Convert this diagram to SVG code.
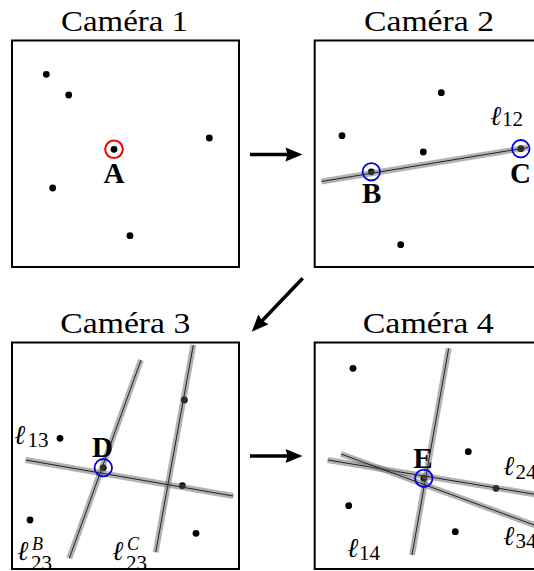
<svg xmlns="http://www.w3.org/2000/svg" width="534" height="571" viewBox="0 0 534 571">
<style>
  .frame{fill:#fff;stroke:#000;stroke-width:2}
  .title{font-family:"Liberation Serif","DejaVu Serif",serif;font-size:30px;fill:#000;text-anchor:middle}
  .pt{font-family:"Liberation Serif","DejaVu Serif",serif;font-size:29px;font-weight:bold;fill:#000;text-anchor:middle}
  .ell{font-family:"Liberation Serif","DejaVu Serif",serif;font-size:27px;font-style:italic;fill:#000}
  .sub{font-family:"Liberation Serif","DejaVu Serif",serif;font-size:21px;fill:#000}
  .sup{font-family:"Liberation Serif","DejaVu Serif",serif;font-size:18px;font-style:italic;fill:#000}
  .dot{fill:#000}
  .band{stroke:#666;stroke-opacity:0.5;stroke-width:6;fill:none}
  .core{stroke:#222;stroke-width:1;fill:none}
  .red{fill:none;stroke:#ee0000;stroke-width:2}
  .blue{fill:none;stroke:#0000ee;stroke-width:1.8}
  .arrow{stroke:#000;stroke-width:3.5;fill:none}
</style>
<defs>
  <marker id="head" markerUnits="userSpaceOnUse" markerWidth="24" markerHeight="18" viewBox="-2 -9 20 18" refX="4" refY="0" orient="auto">
    <path d="M-1,-7 L16,0 L-1,7 L1,0 z" fill="#000"/>
  </marker>
</defs>

<g id="camera1">
  <text class="title" x="124.5" y="31" textLength="127" lengthAdjust="spacingAndGlyphs">Caméra 1</text>
  <rect class="frame" x="12" y="40.5" width="227" height="226.5"/>
  <circle class="dot" cx="46.3" cy="74.3" r="3.4"/>
  <circle class="dot" cx="68.7" cy="95" r="3.4"/>
  <circle class="dot" cx="209.3" cy="138" r="3.4"/>
  <circle class="dot" cx="114" cy="149.3" r="3.4"/>
  <circle class="dot" cx="52.7" cy="188" r="3.4"/>
  <circle class="dot" cx="130" cy="235.7" r="3.4"/>
  <circle class="red" cx="114" cy="149.3" r="8.8"/>
  <text class="pt" x="114" y="182.7">A</text>
</g>

<g id="camera2">
  <text class="title" x="429" y="31" textLength="130" lengthAdjust="spacingAndGlyphs">Caméra 2</text>
  <rect class="frame" x="314.7" y="40.5" width="227" height="226.5"/>
  <circle class="dot" cx="342" cy="135.7" r="3.4"/>
  <circle class="dot" cx="441.3" cy="92.7" r="3.4"/>
  <circle class="dot" cx="423.3" cy="152" r="3.4"/>
  <circle class="dot" cx="371.3" cy="171.8" r="3.4"/>
  <circle class="dot" cx="520.8" cy="148.7" r="3.4"/>
  <circle class="dot" cx="400.7" cy="244.7" r="3.4"/>
  <line class="band" x1="321.5" y1="181.5" x2="528" y2="147.5"/>
  <line class="core" x1="321.5" y1="181.5" x2="528" y2="147.5"/>
  <circle class="blue" cx="371.3" cy="171.8" r="8.7"/>
  <circle class="blue" cx="520.8" cy="148.7" r="8.7"/>
  <text class="pt" x="371.7" y="203.3">B</text>
  <text class="pt" x="520.5" y="183.3">C</text>
  <text class="ell" x="490" y="124.5">ℓ</text>
  <text class="sub" x="502" y="126">12</text>
</g>

<g id="camera3">
  <text class="title" x="125.3" y="332.7" textLength="130" lengthAdjust="spacingAndGlyphs">Caméra 3</text>
  <rect class="frame" x="12" y="342.5" width="227" height="226.5"/>
  <circle class="dot" cx="60" cy="438.3" r="3.4"/>
  <circle class="dot" cx="30" cy="520" r="3.4"/>
  <circle class="dot" cx="196" cy="533.3" r="3.4"/>
  <circle class="dot" cx="103.3" cy="467.7" r="3.4"/>
  <circle class="dot" cx="184.3" cy="400" r="3.4"/>
  <circle class="dot" cx="182.3" cy="485.7" r="3.4"/>
  <line class="band" x1="141" y1="360" x2="69.3" y2="558.3"/>
  <line class="core" x1="141" y1="360" x2="69.3" y2="558.3"/>
  <line class="band" x1="193.3" y1="345" x2="155.7" y2="552.3"/>
  <line class="core" x1="193.3" y1="345" x2="155.7" y2="552.3"/>
  <line class="band" x1="25.7" y1="460" x2="233.3" y2="496"/>
  <line class="core" x1="25.7" y1="460" x2="233.3" y2="496"/>
  <circle class="blue" cx="103.3" cy="467.7" r="8.7"/>
  <text class="pt" x="102.5" y="456.7">D</text>
  <text class="ell" x="14" y="443.5">ℓ</text>
  <text class="sub" x="27.5" y="446.5">13</text>
  <text class="ell" x="17" y="560">ℓ</text>
  <text class="sup" x="32" y="550">B</text>
  <text class="sub" x="31" y="570">23</text>
  <text class="ell" x="112" y="560">ℓ</text>
  <text class="sup" x="127" y="550">C</text>
  <text class="sub" x="126" y="570">23</text>
</g>

<g id="camera4">
  <text class="title" x="428.2" y="332.7" textLength="131" lengthAdjust="spacingAndGlyphs">Caméra 4</text>
  <rect class="frame" x="314.7" y="342.5" width="227" height="226.5"/>
  <circle class="dot" cx="353" cy="368.3" r="3.4"/>
  <circle class="dot" cx="468.3" cy="451.7" r="3.4"/>
  <circle class="dot" cx="348.7" cy="505.7" r="3.4"/>
  <circle class="dot" cx="455.3" cy="531.7" r="3.4"/>
  <circle class="dot" cx="423.8" cy="478.3" r="3.4"/>
  <circle class="dot" cx="496" cy="488.3" r="3.4"/>
  <line class="band" x1="448.7" y1="348.3" x2="412" y2="555"/>
  <line class="core" x1="448.7" y1="348.3" x2="412" y2="555"/>
  <line class="band" x1="327.7" y1="460" x2="545" y2="496"/>
  <line class="core" x1="327.7" y1="460" x2="545" y2="496"/>
  <line class="band" x1="341" y1="454" x2="545" y2="529"/>
  <line class="core" x1="341" y1="454" x2="545" y2="529"/>
  <circle class="blue" cx="423.8" cy="478.3" r="8.7"/>
  <text class="pt" x="423" y="467.5">E</text>
  <text class="ell" x="347" y="557">ℓ</text>
  <text class="sub" x="359" y="560">14</text>
  <text class="ell" x="503" y="474.5">ℓ</text>
  <text class="sub" x="515.5" y="479">24</text>
  <text class="ell" x="503" y="544.5">ℓ</text>
  <text class="sub" x="515.5" y="548">34</text>
</g>

<g id="connectors">
  <line class="arrow" x1="250" y1="154.5" x2="290.5" y2="154.5" marker-end="url(#head)"/>
  <line class="arrow" x1="302.7" y1="278.3" x2="260" y2="323" marker-end="url(#head)"/>
  <line class="arrow" x1="250" y1="456" x2="290.5" y2="456" marker-end="url(#head)"/>
</g>
</svg>
